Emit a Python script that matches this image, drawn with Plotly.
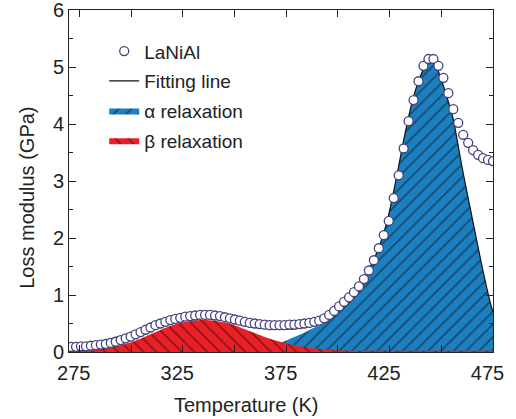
import plotly.graph_objects as go

# ---- measured data (LaNiAl) ----
temp_data = [271.0, 273.4, 275.8, 278.2, 280.6, 283.0, 285.4, 287.8, 290.2, 292.6,
             295.0, 297.4, 299.8, 302.2, 304.6, 307.0, 309.4, 311.8, 314.2, 316.6,
             319.0, 321.4, 323.8, 326.2, 328.6, 331.0, 333.4, 335.8, 338.2, 340.6,
             343.0, 345.4, 347.8, 350.2, 352.6, 355.0, 357.4, 359.8, 362.2, 364.6,
             367.0, 369.4, 371.8, 374.2, 376.6, 379.0, 381.4, 383.8, 386.2, 388.6,
             391.0, 393.4, 395.8, 398.2, 400.6, 403.0, 405.4, 407.8, 410.2, 412.6,
             415.0, 417.4, 419.8, 422.2, 424.6, 427.0, 429.4, 431.8, 434.2, 436.6,
             439.0, 441.4, 443.8, 446.2, 448.6, 451.0, 453.4, 455.8, 458.2, 460.6,
             463.0, 465.4, 467.8, 470.2, 472.6, 475.0]
loss_data = [0.09, 0.09, 0.10, 0.10, 0.11, 0.12, 0.13, 0.14, 0.16, 0.18,
             0.21, 0.24, 0.27, 0.31, 0.35, 0.39, 0.43, 0.47, 0.50, 0.53,
             0.56, 0.58, 0.60, 0.62, 0.63, 0.64, 0.65, 0.65, 0.65, 0.64,
             0.63, 0.61, 0.59, 0.57, 0.55, 0.53, 0.51, 0.50, 0.49, 0.48,
             0.47, 0.47, 0.47, 0.47, 0.48, 0.48, 0.49, 0.50, 0.51, 0.53,
             0.55, 0.59, 0.65, 0.72, 0.80, 0.88, 0.96, 1.05, 1.15, 1.28,
             1.43, 1.61, 1.82, 2.05, 2.30, 2.70, 3.10, 3.57, 4.05, 4.42,
             4.75, 5.02, 5.14, 5.14, 5.02, 4.81, 4.54, 4.26, 4.02, 3.81,
             3.67, 3.54, 3.46, 3.40, 3.37, 3.35]

# ---- fitted curves ----
temp_fit = [270, 275, 280, 285, 290, 295, 300, 305, 310, 315, 320, 325, 330, 335,
            340, 345, 350, 355, 360, 365, 370, 375, 380, 385, 390, 395, 400, 404,
            408, 412, 416, 420, 424, 428, 432, 436, 440, 444, 446, 448, 450, 452,
            454, 456, 458, 460, 462, 464, 466, 468, 470, 472, 474, 475]
fit_line = [0.13, 0.14, 0.16, 0.19, 0.23, 0.28, 0.33, 0.40, 0.46, 0.52, 0.56, 0.59, 0.61, 0.62,
            0.61, 0.59, 0.55, 0.51, 0.46, 0.43, 0.41, 0.40, 0.41, 0.45, 0.52, 0.63, 0.78, 0.90,
            1.05, 1.25, 1.52, 1.85, 2.32, 3.00, 3.75, 4.40, 4.85, 5.10, 5.10, 4.98, 4.78, 4.56,
            4.32, 4.05, 3.65, 3.25, 2.88, 2.52, 2.16, 1.80, 1.45, 1.12, 0.82, 0.70]
alpha_curve = [0.0, 0.0, 0.0, 0.0, 0.0, 0.0, 0.0, 0.0, 0.0, 0.0, 0.0, 0.01, 0.01, 0.01,
               0.02, 0.03, 0.04, 0.05, 0.07, 0.09, 0.13, 0.20, 0.28, 0.36, 0.45, 0.55, 0.70, 0.84,
               1.02, 1.23, 1.52, 1.85, 2.32, 3.00, 3.75, 4.40, 4.85, 5.10, 5.10, 4.98, 4.78, 4.56,
               4.32, 4.05, 3.65, 3.25, 2.88, 2.52, 2.16, 1.80, 1.45, 1.12, 0.82, 0.70]
beta_curve = [0.05, 0.055, 0.06, 0.07, 0.09, 0.12, 0.17, 0.24, 0.32, 0.40, 0.47, 0.52, 0.55, 0.56,
              0.55, 0.52, 0.47, 0.40, 0.33, 0.26, 0.20, 0.15, 0.11, 0.08, 0.055, 0.04, 0.03, 0.025,
              0.02, 0.02, 0.02, 0.02, 0.02, 0.02, 0.02, 0.02, 0.02, 0.02, 0.02, 0.02, 0.02, 0.02,
              0.02, 0.02, 0.02, 0.02, 0.02, 0.02, 0.02, 0.02, 0.02, 0.02, 0.02, 0.02]

x_tick_labels = ["275", "325", "375", "425", "475"]
x_tick_values = [275, 325, 375, 425, 475]
x_title = "Temperature (K)"
y_title = "Loss modulus (GPa)"

BLUE = "#1b7fc0"
RED = "#ec1f26"
MARK = "#44417e"
INK = "#222222"
FONT = "Liberation Sans, Arial, sans-serif"
NBSP = "\u00a0"

fig = go.Figure()

fig.add_trace(go.Scatter(
    x=temp_fit, y=alpha_curve, mode="lines", name="α relaxation",
    line=dict(width=0, shape="spline", smoothing=0.6),
    fill="tozeroy", fillcolor=BLUE,
    fillpattern=dict(shape="/", bgcolor=BLUE, fgcolor="#111111", size=9, solidity=0.18),
    legendrank=3, legendgroup="a"))

fig.add_trace(go.Scatter(
    x=temp_fit, y=beta_curve, mode="lines", name="β relaxation",
    line=dict(width=0, shape="spline", smoothing=0.6),
    fill="tozeroy", fillcolor=RED,
    fillpattern=dict(shape="\\", bgcolor=RED, fgcolor="#111111", size=9, solidity=0.18),
    legendrank=4, legendgroup="b"))

fig.add_trace(go.Scatter(
    x=temp_fit, y=fit_line, mode="lines", name="Fitting line",
    line=dict(color="#111111", width=1.2, shape="spline", smoothing=0.6),
    legendrank=2, legendgroup="c"))

fig.add_trace(go.Scatter(
    x=temp_data, y=loss_data, mode="markers", name="LaNiAl",
    marker=dict(symbol="circle", size=9, color="white",
                line=dict(color=MARK, width=1.3)),
    legendrank=1, legendgroup="d"))

axis_common = dict(
    showline=True, linecolor=INK, linewidth=1, mirror="ticks",
    ticks="inside", ticklen=7, tickcolor=INK, tickwidth=1,
    showgrid=False, zeroline=False, automargin=False,
    ticklabeloverflow="allow",
    tickfont=dict(family=FONT, size=20, color=INK),
)

fig.update_xaxes(
    range=[270, 475], tickvals=x_tick_values,
    ticktext=[t + NBSP * 2 for t in x_tick_labels],
    minor=dict(tickvals=[300, 350, 400, 450], ticks="inside", ticklen=7, tickcolor=INK),
    ticklabelstandoff=3,
    **axis_common)
fig.update_yaxes(
    range=[0, 6], dtick=1, tick0=0,
    minor=dict(dtick=0.5, ticks="inside", ticklen=4, tickcolor=INK),
    **axis_common)

# axis titles (placed as in the reference, slightly off-centre)
fig.add_annotation(text=x_title, xref="paper", yref="paper", x=0.4175, y=-0.155,
                   xanchor="center", yanchor="middle", showarrow=False,
                   font=dict(family=FONT, size=20, color=INK))
fig.add_annotation(text=y_title, xref="paper", yref="paper", x=-0.099, y=0.451,
                   xanchor="center", yanchor="middle", showarrow=False, textangle=-90,
                   font=dict(family=FONT, size=20, color=INK))

fig.update_layout(
    width=516, height=419,
    margin=dict(l=69, r=23, t=10, b=67),
    paper_bgcolor="white", plot_bgcolor="white",
    font=dict(family=FONT, color=INK),
    legend=dict(x=0.083, y=0.935, xanchor="left", yanchor="top",
                bgcolor="rgba(0,0,0,0)", borderwidth=0,
                font=dict(family=FONT, size=19, color=INK),
                tracegroupgap=2, itemwidth=30),
    showlegend=True,
)

fig.write_html("out.html", config={"displayModeBar": False},
               post_script="document.body.style.margin='0px';")
